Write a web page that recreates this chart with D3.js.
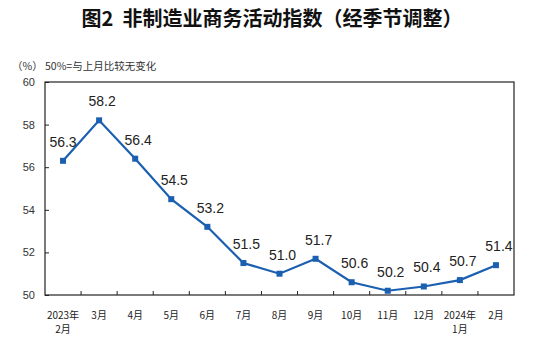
<!DOCTYPE html>
<html><head><meta charset="utf-8">
<script src="https://cdn.jsdelivr.net/npm/d3@7"></script>
<style>body{margin:0;background:#fff}svg{display:block}</style>
</head><body>
<svg id="c" width="540" height="352"></svg>
<script>
const categories = ["2023年|2月","3月","4月","5月","6月","7月","8月","9月","10月","11月","12月","2024年|1月","2月"];
const values = [56.3,58.2,56.4,54.5,53.2,51.5,51.0,51.7,50.6,50.2,50.4,50.7,51.4];
const yTicks = [50,52,54,56,58,60];
const title = "图2  非制造业商务活动指数（经季节调整）";
const unitNote = "（%） 50%=与上月比较无变化";

const svg = d3.select("#c");
const m = {l:45, r:514, t:82, b:295};
const x = d3.scaleBand().domain(d3.range(categories.length)).range([m.l, m.r]).padding(0);
const y = d3.scaleLinear().domain([50,60]).range([m.b, m.t]);
const cjk = "'Noto Sans CJK SC', sans-serif";
const latin = "'Liberation Sans', Arial, sans-serif";

svg.append("text").attr("x",272).attr("y",26).attr("text-anchor","middle")
  .style("font-family",cjk).style("font-size","20px").style("font-weight","bold").attr("fill","#111")
  .attr("xml:space","preserve").style("white-space","pre").text(title);
svg.append("text").attr("x",12).attr("y",70)
  .style("font-family",cjk).style("font-size","10.5px").attr("fill","#333")
  .style("white-space","pre").text(unitNote);

// frame
svg.append("rect").attr("x",m.l).attr("y",m.t).attr("width",m.r-m.l).attr("height",m.b-m.t)
  .attr("fill","none").attr("stroke","#222").attr("stroke-width",1.2);

// y axis
const ya = svg.append("g").attr("transform",`translate(${m.l},0)`)
  .call(d3.axisLeft(y).tickValues(yTicks).tickSize(-4).tickPadding(10).tickFormat(d3.format("d")));
ya.select(".domain").remove();
ya.selectAll("line").attr("stroke","#222");
ya.selectAll("text").style("font-family",latin).style("font-size","11px").attr("fill","#333");

// x axis ticks at boundaries
const bounds = d3.range(1, categories.length).map(i => x(i));
svg.append("g").selectAll("line").data(bounds).join("line")
  .attr("x1",d=>d).attr("x2",d=>d).attr("y1",m.b).attr("y2",m.b-4).attr("stroke","#222");
const xl = svg.append("g").selectAll("text").data(categories).join("text")
  .attr("x",(d,i)=>x(i)+x.bandwidth()/2).attr("y",319).attr("text-anchor","middle")
  .style("font-family",cjk).style("font-size","10px").attr("fill","#222");
xl.each(function(d){
  const parts = d.split("|");
  const t = d3.select(this);
  parts.forEach((p,k)=>t.append("tspan").attr("x",t.attr("x")).attr("dy",k?14:0).text(p));
});

// line
const cx = i => x(i)+x.bandwidth()/2;
svg.append("path").datum(values)
  .attr("d", d3.line().x((d,i)=>cx(i)).y(d=>y(d)))
  .attr("fill","none").attr("stroke","#1a5fb0").attr("stroke-width",2.2);
svg.append("g").selectAll("rect").data(values).join("rect")
  .attr("x",(d,i)=>cx(i)-3).attr("y",d=>y(d)-3).attr("width",6).attr("height",6).attr("fill","#1a5fb0");
svg.append("g").selectAll("text").data(values).join("text")
  .attr("x",(d,i)=>cx(i)+(i===0?0:3)).attr("y",d=>y(d)-14).attr("text-anchor","middle")
  .style("font-family",latin).style("font-size","14px").attr("fill","#222")
  .text(d=>d.toFixed(1));
</script>
</body></html>
